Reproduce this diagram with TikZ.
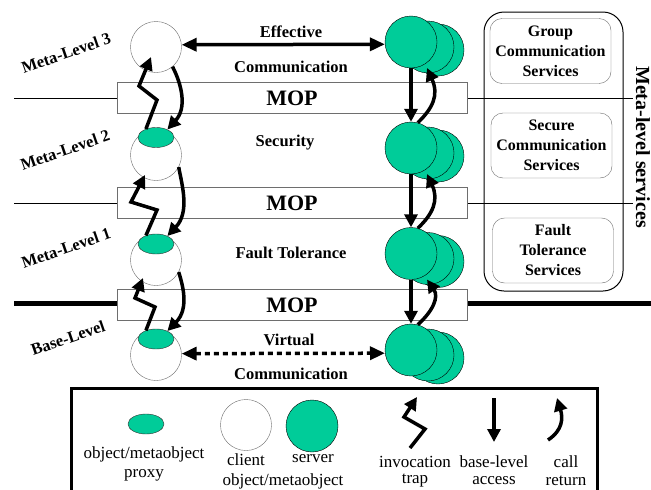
\documentclass[tikz,border=0pt]{standalone}
\usepackage{fontspec}
\setmainfont{Liberation Serif}
\usetikzlibrary{arrows.meta,shapes.geometric,calc}
\definecolor{objgreen}{RGB}{0,204,153}
\definecolor{edgegray}{RGB}{110,110,110}
\begin{document}
\begin{tikzpicture}[x=1pt,y=-1pt,
  lbl/.style={font=\bfseries\fontsize{16.5}{18}\selectfont, inner sep=0pt},
  moptext/.style={font=\bfseries\fontsize{22}{24}\selectfont},
  mopbar/.style={draw=edgegray, fill=white, minimum width=350pt, minimum height=31pt, inner sep=0pt, moptext},
  lvl/.style={font=\bfseries\fontsize{16.5}{18}\selectfont, rotate=19, inner sep=0pt},
  svcbox/.style={draw=edgegray, rounded corners=12pt, minimum width=121pt, minimum height=65pt, inner sep=0pt,
    align=center, font=\bfseries\fontsize{16}{20}\selectfont},
  leg/.style={font=\fontsize{17}{19}\selectfont, inner sep=0pt},
  client/.style={circle, draw=edgegray, fill=white, minimum size=51pt, inner sep=0pt},
  proxy/.style={ellipse, draw=black!80, fill=objgreen, minimum width=36pt, minimum height=20pt, inner sep=0pt},
  server/.style={circle, draw=black, fill=objgreen, minimum size=52pt, inner sep=0pt},
  tip/.style={-{Triangle[length=13pt,width=13pt]}},
  flow/.style={line width=3.5pt, tip, line join=miter},
  level/.style={line width=1pt},
]
\useasboundingbox (0,0) rectangle (651,490);
\clip (0,0) rectangle (651,490);
\fill[white] (0,0) rectangle (651,490);

% level separators with the MOP bars
\coordinate (l3L) at (14,98);   \coordinate (l3R) at (633,98);
\coordinate (l2L) at (14,203);  \coordinate (l2R) at (633,203);
\coordinate (l1L) at (14,303);  \coordinate (l1R) at (651,303);
\draw[level] (l3L) -- (l3R);
\draw[level] (l2L) -- (l2R);
\draw[line width=5pt] (l1L) -- (l1R);
\node[mopbar] (mop3) at (292,98) {MOP};
\node[mopbar] (mop2) at (292,203) {MOP};
\node[mopbar] (mop1) at (292,305) {MOP};

% meta-level services
\draw[line width=1pt, rounded corners=20pt] (484,12) rectangle (623,291);
\node[svcbox] (gcs) at (550.5,51) {Group\\Communication\\Services};
\node[svcbox] (scs) at (551.5,145.5) {Secure\\Communication\\Services};
\node[svcbox] (fts) at (553,250.5) {Fault\\Tolerance\\Services};
\node[font=\bfseries\fontsize{20}{22}\selectfont, rotate=-90, inner sep=0pt] (mls) at (643,147) {Meta-level services};

% level names
\node[lvl] (n3) at (66,53) {Meta-Level 3};
\node[lvl] (n2) at (65,150) {Meta-Level 2};
\node[lvl] (n1) at (66,248) {Meta-Level 1};
\node[lvl] (n0) at (68,338) {Base-Level};

% client side objects and proxies
\node[client] (c3) at (156,47) {};
\node[client] (c2) at (156,155) {};
\node[client] (c1) at (156,260) {};
\node[client] (c0) at (156,355) {};
\node[proxy] (p2) at (156,137.5) {};
\node[proxy] (p1) at (156,244) {};
\node[proxy] (p0) at (156,339) {};

% server side: replicated objects
\foreach \n/\y in {3/42,2/148,1/253.5,0/350}{
  \node[server] (s\n c) at (438,\y+8) {};
  \node[server] (s\n b) at (428,\y+5) {};
  \node[server] (s\n) at (411,\y) {};
}

% level texts
\node[lbl] (eff) at (291,32) {Effective};
\node[lbl] (effc) at (291,67) {Communication};
\node[lbl] (sec) at (285,143) {Security};
\node[lbl] (ft) at (291,253) {Fault Tolerance};
\node[lbl] (virt) at (289,340) {Virtual};
\node[lbl] (virtc) at (291,374) {Communication};

% communication between client and server
\draw[line width=3.5pt, {Triangle[length=15pt,width=13pt]}-{Triangle[length=15pt,width=13pt]}] (c3.5) -- (s3.185);
\draw[line width=3.5pt, dash pattern=on 5pt off 4pt, {Triangle[length=15pt,width=13pt]}-{Triangle[length=15pt,width=13pt]}] (c0.3) -- (s0.187);

% invocation traps (client side, upwards)
\draw[flow] (p2.140) -- (157,100) -- (139,86) -- ($(c3.center)+(-5,10)$);
\draw[flow] (p1.140) -- (157,210) -- (131,202) -- ($(c2.center)+(-11,20)$);
\draw[flow] (p0.140) -- (155,307) -- (135,298) -- ($(c1.center)+(-13,18)$);

% base-level access (client side, downwards)
\draw[flow] (c3.-50) .. controls (182,85) and (187,108) .. (p2.35);
\draw[flow] (c2.-28) .. controls (182,185) and (190,212) .. (p1.35);
\draw[flow] (c1.-28) .. controls (182,283) and (190,308) .. (p0.35);

% base-level access (server side)
\draw[flow] (s3.south) -- (s2.north);
\draw[flow] (s2.south) -- (s1.north);
\draw[flow] (s1.south) -- (s0.north);

% call returns (server side)
\draw[flow] (s2.75) .. controls (433,108) and (439,95) .. ($(s3b.center)+(-1,21)$);
\draw[flow] (s1.75) .. controls (433,214) and (439,200) .. ($(s2b.center)+(-1,21)$);
\draw[flow] (s0.75) .. controls (433,311) and (439,297) .. ($(s1b.center)+(-1,21)$);

% legend
\draw[line width=3pt] (71,388) rectangle (597,500);
\node[proxy] (lp) at (146,424) {};
\node[leg, align=center] (lpt) at (144,464) {object/metaobject\\proxy};
\node[client] (lc) at (246,425) {};
\node[server] (ls) at (312,426) {};
\node[leg] (lct) at (246,460) {client};
\node[leg] (lst) at (313,459) {server};
\node[leg] (lot) at (283,481) {object/metaobject};
\draw[flow] (410,448) -- (425,429) -- (404,417) -- (417,397);
\node[leg] (lit) at (415,462) {invocation};
\node[leg] (ltt) at (415,481) {trap};
\draw[flow] (494,398) -- (494,442);
\node[leg] (lbt) at (494,462) {base-level};
\node[leg] (lat) at (494,481) {access};
\draw[flow] (548,440) .. controls (563,430) and (563,418) .. (557,398);
\node[leg] (lcat) at (566,462) {call};
\node[leg] (lrt) at (566,481) {return};
\end{tikzpicture}
\end{document}
